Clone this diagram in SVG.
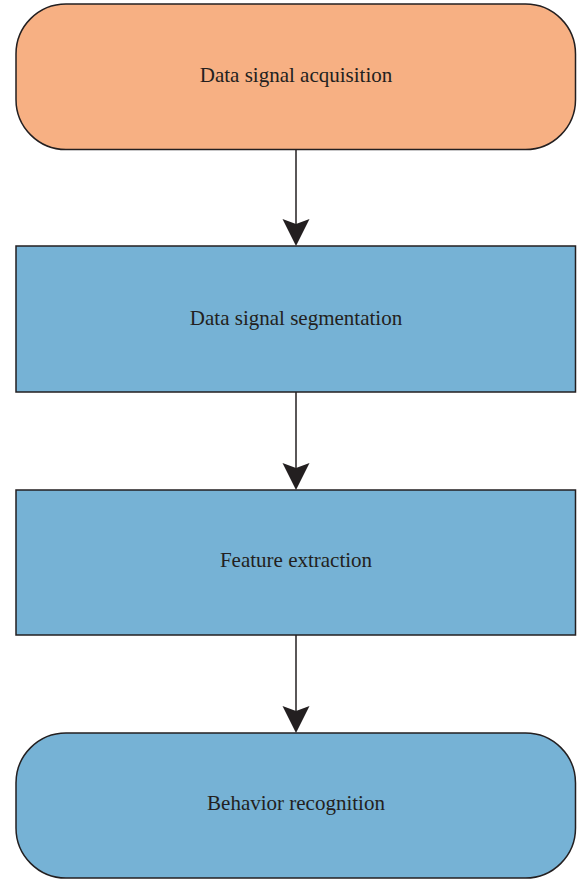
<svg xmlns="http://www.w3.org/2000/svg" width="579" height="881" viewBox="0 0 579 881">
<style>
.n{stroke:#231f20;stroke-width:1.5}
.o{fill:#f7b083}
.b{fill:#76b2d5}
.t{font-family:"Liberation Serif",serif;font-size:21px;fill:#231f20;text-anchor:middle}
.c{stroke:#231f20;stroke-width:1.5;fill:none}
.h{fill:#231f20}
</style>
<rect width="579" height="881" fill="#fff"/>
<g id="connectors">
<line class="c" x1="296" y1="149" x2="296" y2="230"/>
<polygon class="h" points="282.5,219 296,224 309.5,219 296,246"/>
<line class="c" x1="296" y1="392" x2="296" y2="474"/>
<polygon class="h" points="282.5,463 296,468 309.5,463 296,490"/>
<line class="c" x1="296" y1="635" x2="296" y2="717"/>
<polygon class="h" points="282.5,706 296,711 309.5,706 296,733"/>
</g>
<g id="node1">
<rect class="n o" x="16" y="4" width="559.5" height="145.5" rx="50" ry="50"/>
<text class="t" x="296" y="82">Data signal acquisition</text>
</g>
<g id="node2">
<rect class="n b" x="16" y="246" width="559.5" height="146"/>
<text class="t" x="296" y="325">Data signal segmentation</text>
</g>
<g id="node3">
<rect class="n b" x="16" y="490" width="559.5" height="145"/>
<text class="t" x="296" y="567">Feature extraction</text>
</g>
<g id="node4">
<rect class="n b" x="16" y="733" width="559.5" height="145" rx="50" ry="50"/>
<text class="t" x="296" y="810">Behavior recognition</text>
</g>
</svg>
